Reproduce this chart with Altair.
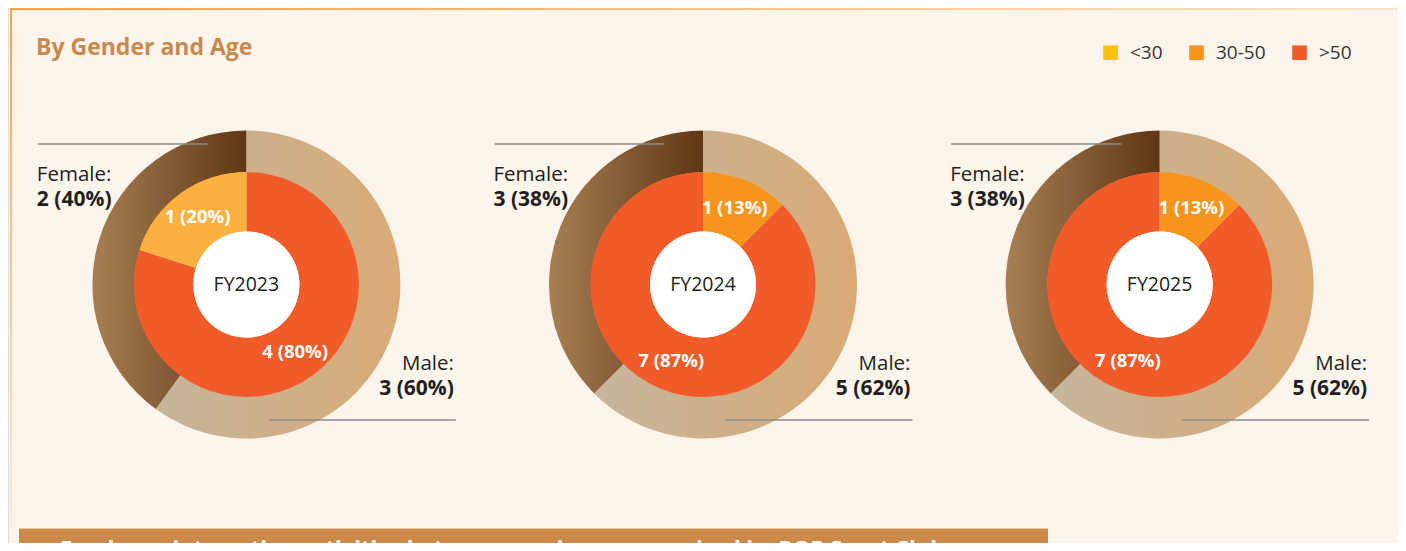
import altair as alt
import pandas as pd
import numpy as np

# ---------------- data ----------------
years = ["FY2023", "FY2024", "FY2025"]
genders = ["Male", "Female"]
male_count = [3, 5, 5]
female_count = [2, 3, 3]
male_pct = [60, 62, 62]
female_pct = [40, 38, 38]

inner_year = ["FY2023", "FY2023", "FY2024", "FY2024", "FY2025", "FY2025"]
inner_age = [">50", "<30", "30-50", ">50", "30-50", ">50"]
inner_count = [4, 1, 1, 7, 1, 7]
inner_pct = [80, 20, 13, 87, 13, 87]

age_groups = ["<30", "30-50", ">50"]
age_colors = ["#FFC20E", "#F7941D", "#F15A29"]

title_text = "By Gender and Age"
banner_text = "Employee interaction activities between employees organised by ROP Sport Club"

FONT = "Open Sans"


def ring(year_list, cat_list, counts, pcts, catname):
    df = pd.DataFrame({"year": year_list, catname: cat_list, "count": counts, "pct": pcts})
    df["total"] = df.groupby("year")["count"].transform("sum")
    df["frac"] = df["count"] / df["total"]
    df["end"] = df.groupby("year")["frac"].cumsum()
    df["start"] = df["end"] - df["frac"]
    df["mid"] = (df["start"] + df["end"]) / 2
    df["label"] = df["count"].astype(str) + " (" + df["pct"].astype(str) + "%)"
    return df


outer_year, outer_gender, outer_count, outer_pct = [], [], [], []
for i, y in enumerate(years):
    outer_year += [y, y]
    outer_gender += ["Male", "Female"]
    outer_count += [male_count[i], female_count[i]]
    outer_pct += [male_pct[i], female_pct[i]]

outer = ring(outer_year, outer_gender, outer_count, outer_pct, "gender")
outer["name"] = outer["gender"] + ":"
inner = ring(inner_year, inner_age, inner_count, inner_pct, "age")
centers = pd.DataFrame({"year": years})
dummy = pd.DataFrame({"d": [0]})

# ---------------- layout helpers ----------------
W, H = 1390, 535
CY = 276.5
xenc = alt.X("year:N", scale=alt.Scale(type="point", domain=years, padding=0.522), axis=None)
yenc = alt.value(CY)
theta_scale = alt.Scale(domain=[0, 1], range=[0, 2 * np.pi])


def grad(c0, c1, vertical=False):
    return alt.Gradient(
        gradient="linear",
        stops=[alt.GradientStop(color=c0, offset=0), alt.GradientStop(color=c1, offset=1)],
        x1=0, y1=0, x2=0 if vertical else 1, y2=1 if vertical else 0,
    )


female_grad = grad("#A87E54", "#5F3714")
male_grad = grad("#C5B59B", "#D9AA77")

# ---------------- layers ----------------
top_border = alt.Chart(dummy).mark_rect(fill=grad("#F7A044", "#FDE3C6")).encode(
    x=alt.value(2), x2=alt.value(W), y=alt.value(0), y2=alt.value(2)
)
left_border = alt.Chart(dummy).mark_rect(fill=grad("#F7A044", "#FDEBD8", vertical=True)).encode(
    x=alt.value(2), x2=alt.value(4), y=alt.value(0), y2=alt.value(520)
)

title = alt.Chart(dummy).mark_text(
    align="left", baseline="middle", fontSize=23, fontWeight="bold", color="#C8894D", font=FONT
).encode(x=alt.value(28), y=alt.value(40), text=alt.value(title_text))

female_arc = alt.Chart(outer).transform_filter("datum.gender === 'Female'").mark_arc(
    outerRadius=154, innerRadius=112, fill=female_grad
).encode(
    x=xenc, y=yenc,
    theta=alt.Theta("start:Q", scale=theta_scale, stack=None),
    theta2=alt.Theta2("end:Q"),
)
male_arc = alt.Chart(outer).transform_filter("datum.gender === 'Male'").mark_arc(
    outerRadius=154, innerRadius=112, fill=male_grad
).encode(
    x=xenc, y=yenc,
    theta=alt.Theta("start:Q", scale=theta_scale, stack=None),
    theta2=alt.Theta2("end:Q"),
)

inner_arc = alt.Chart(inner).mark_arc(outerRadius=112.5, innerRadius=53).encode(
    x=xenc, y=yenc,
    theta=alt.Theta("start:Q", scale=theta_scale, stack=None),
    theta2=alt.Theta2("end:Q"),
    color=alt.condition(
        "datum.year === 'FY2023' && datum.age === '<30'",
        alt.value("#FBB040"),
        alt.Color(
            "age:N",
            scale=alt.Scale(domain=age_groups, range=age_colors),
            legend=alt.Legend(
                title=None, orient="none", legendX=1093, legendY=35, direction="horizontal",
                symbolType="square", symbolSize=215, symbolStrokeWidth=0, symbolOpacity=1,
                labelFontSize=19, labelColor="#333333", labelFont=FONT, labelOffset=10,
                columnPadding=24, padding=0,
            ),
        ),
    ),
)

hole = alt.Chart(centers).mark_arc(
    outerRadius=53, innerRadius=0, theta=0, theta2=2 * np.pi, fill="white", opacity=1
).encode(x=xenc, y=yenc)

center_text = alt.Chart(centers).mark_text(fontSize=19.5, color="#231F20", font=FONT).encode(
    x=xenc, y=yenc, text="year:N"
)

inner_labels = alt.Chart(inner).mark_text(
    radius=83, fontSize=18.5, fontWeight="bold", color="white", font=FONT
).encode(
    x=xenc, y=yenc,
    theta=alt.Theta("mid:Q", scale=theta_scale, stack=None),
    text="label:N",
)

fem = alt.Chart(outer).transform_filter("datum.gender === 'Female'")
mal = alt.Chart(outer).transform_filter("datum.gender === 'Male'")

fem_name = fem.mark_text(align="left", baseline="middle", dx=-209.5, dy=-109.5, fontSize=20.5,
                         color="#231F20", font=FONT).encode(x=xenc, y=yenc, text="name:N")
fem_val = fem.mark_text(align="left", baseline="middle", dx=-209.5, dy=-85, fontSize=21,
                        fontWeight="bold", color="#231F20", font=FONT).encode(x=xenc, y=yenc, text="label:N")
mal_name = mal.mark_text(align="right", baseline="middle", dx=207.5, dy=79.5, fontSize=20.5,
                         color="#231F20", font=FONT).encode(x=xenc, y=yenc, text="name:N")
mal_val = mal.mark_text(align="right", baseline="middle", dx=207.5, dy=104, fontSize=21,
                        fontWeight="bold", color="#231F20", font=FONT).encode(x=xenc, y=yenc, text="label:N")

fem_line = fem.mark_rule(xOffset=-208.5, x2Offset=-38.5, color="#8C8E90", strokeWidth=1.5).encode(
    x=xenc, x2=alt.X2("year:N"), y=alt.value(136)
)
mal_line = mal.mark_rule(xOffset=22.5, x2Offset=209.5, color="#8C8E90", strokeWidth=1.5).encode(
    x=xenc, x2=alt.X2("year:N"), y=alt.value(412)
)

banner = alt.Chart(dummy).mark_rect(fill="#CB8A4A").encode(
    x=alt.value(11), x2=alt.value(1040), y=alt.value(521), y2=alt.value(H)
)
banner_line = alt.Chart(dummy).mark_rect(fill="#E2C39C").encode(
    x=alt.value(11), x2=alt.value(1040), y=alt.value(520), y2=alt.value(521)
)
banner_txt = alt.Chart(dummy).mark_text(
    align="left", baseline="top", fontSize=22, fontWeight="bold", color="white", font=FONT
).encode(x=alt.value(52), y=alt.value(531), text=alt.value(banner_text))

chart = alt.layer(
    top_border, left_border, title,
    male_arc, female_arc, inner_arc, hole, center_text, inner_labels,
    fem_line, mal_line, fem_name, fem_val, mal_name, mal_val,
    banner, banner_line, banner_txt,
).properties(
    width=W, height=H, padding=0, background="#FDF5EC",
    autosize=alt.AutoSizeParams(type="none"),
).configure_view(stroke=None).configure(font=FONT)

chart.save("out.html", embed_options={"renderer": "svg", "actions": False})
